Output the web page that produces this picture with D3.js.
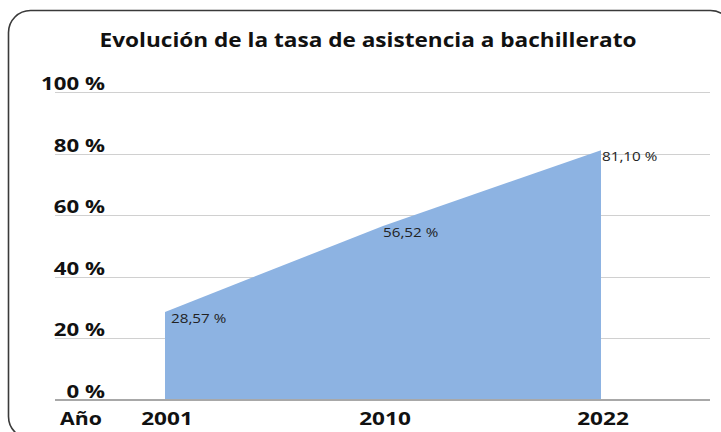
<!DOCTYPE html>
<html>
<head>
<meta charset="utf-8">
<script src="https://cdn.jsdelivr.net/npm/d3@7"></script>
<style>
  html, body { margin: 0; padding: 0; background: #ffffff; }
  svg { display: block; }
  text { font-family: "Open Sans", "DejaVu Sans", sans-serif; }
</style>
</head>
<body>
<svg id="chart" width="721" height="432"></svg>
<script>
const title = "Evolución de la tasa de asistencia a bachillerato";
const categories = ["2001", "2010", "2022"];
const values = [28.57, 56.52, 81.10];
const valueLabels = ["28,57 %", "56,52 %", "81,10 %"];
const yTicks = [0, 20, 40, 60, 80, 100];
const yTickLabels = ["0 %", "20 %", "40 %", "60 %", "80 %", "100 %"];
const xAxisTitle = "Año";

const svg = d3.select("#chart");

// horizontal stretch helper (reference glyphs are wider than available fonts)
function stretch(sel, k) {
  sel.each(function () {
    const len = this.getComputedTextLength();
    d3.select(this).attr("textLength", len * k).attr("lengthAdjust", "spacingAndGlyphs");
  });
}

// Frame
svg.append("rect")
  .attr("x", 8.5).attr("y", 10.5)
  .attr("width", 724).attr("height", 428)
  .attr("rx", 22).attr("ry", 22)
  .attr("fill", "#ffffff")
  .attr("stroke", "#3a3a3a")
  .attr("stroke-width", 1.6);

const plot = { left: 55, right: 710, top: 92, bottom: 400 };
const y = d3.scaleLinear().domain([0, 100]).range([plot.bottom, plot.top]);
const x = d3.scalePoint().domain(categories).range([165, 601]);

// Gridlines
svg.append("g")
  .selectAll("line")
  .data(yTicks.filter(d => d > 0))
  .join("line")
  .attr("x1", plot.left).attr("x2", plot.right)
  .attr("y1", d => Math.round(y(d)) + 0.5).attr("y2", d => Math.round(y(d)) + 0.5)
  .attr("stroke", "#d0d0d0").attr("stroke-width", 1);

// Area
const area = d3.area()
  .x((d, i) => x(categories[i]))
  .y0(y(0))
  .y1(d => y(d));
svg.append("path")
  .datum(values)
  .attr("d", area)
  .attr("fill", "#8db3e2");

// Base axis line
svg.append("line")
  .attr("x1", plot.left).attr("x2", plot.right)
  .attr("y1", y(0)).attr("y2", y(0))
  .attr("stroke", "#a8a8a8").attr("stroke-width", 2);

// Y tick labels
svg.append("g")
  .selectAll("text")
  .data(yTicks)
  .join("text")
  .attr("x", 105)
  .attr("y", d => y(d) - 2)
  .attr("text-anchor", "end")
  .attr("font-size", 18.5)
  .attr("font-weight", 700)
  .attr("fill", "#111")
  .text((d, i) => yTickLabels[i])
  .call(stretch, 1.2);

// X tick labels
svg.append("g")
  .selectAll("text")
  .data(categories)
  .join("text")
  .attr("x", d => x(d) + 2)
  .attr("y", 425)
  .attr("text-anchor", "middle")
  .attr("font-size", 18.5)
  .attr("font-weight", 700)
  .attr("fill", "#111")
  .text(d => d)
  .call(stretch, 1.22);

svg.append("text")
  .attr("x", 81).attr("y", 425)
  .attr("text-anchor", "middle")
  .attr("font-size", 18.5)
  .attr("font-weight", 700)
  .attr("fill", "#111")
  .text(xAxisTitle)
  .call(stretch, 1.15);

// Data labels
svg.append("g")
  .selectAll("text")
  .data(values)
  .join("text")
  .attr("x", (d, i) => x(categories[i]) + (i === 0 ? 6 : i === 1 ? 0 : 1))
  .attr("y", d => y(d) + 11)
  .attr("font-size", 13)
  .attr("fill", "#222")
  .text((d, i) => valueLabels[i])
  .call(stretch, 1.17);

// Title
svg.append("text")
  .attr("x", 368).attr("y", 47)
  .attr("text-anchor", "middle")
  .attr("font-size", 20)
  .attr("font-weight", 700)
  .attr("fill", "#111")
  .text(title)
  .call(stretch, 1.13);
</script>
</body>
</html>
